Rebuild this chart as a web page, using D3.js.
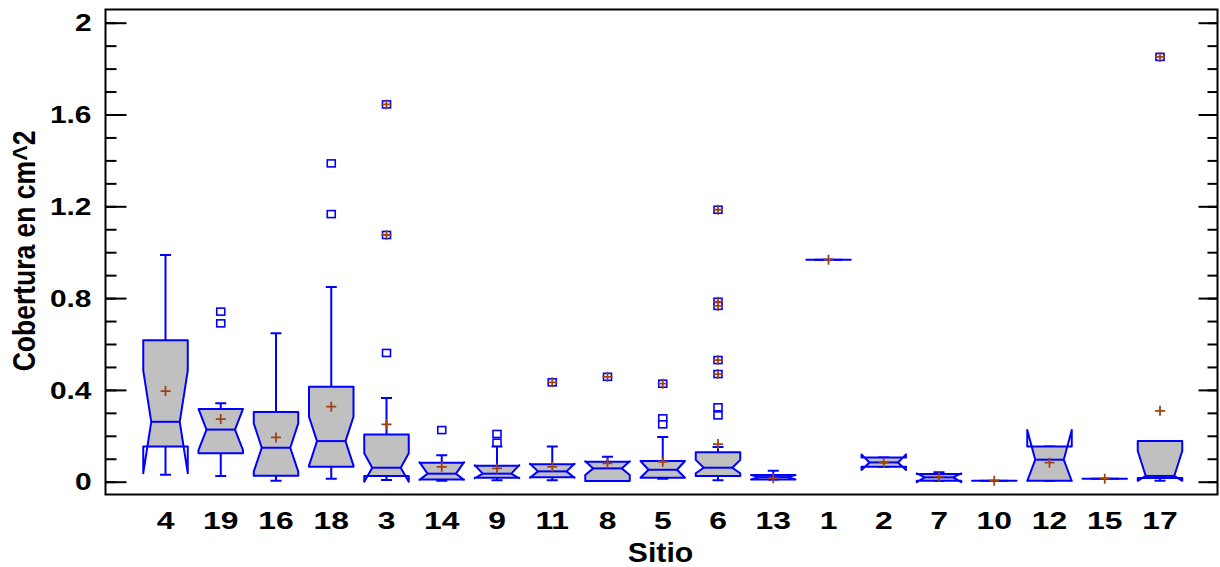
<!DOCTYPE html>
<html>
<head>
<meta charset="utf-8">
<script src="https://cdn.jsdelivr.net/npm/d3@7"></script>
<style>
  body { margin: 0; background: #fff; }
  text { font-family: "Liberation Sans", Arial, sans-serif; font-weight: bold; fill: #000; }
</style>
</head>
<body>
<svg id="chart"></svg>
<script>
var width = 1220;
var height = 567;

// sitios in plot order
var sitios = ["4","19","16","18","3","14","9","11","8","5","6","13","1","2","7","10","12","15","17"];

// box statistics (cm^2)
var whiskerLo = [0.030, 0.025, 0.004, 0.013, 0.007, 0.004, 0.006, 0.006, 0.003, 0.013, 0.006, 0.010, 0.967, 0.065, 0.004, 0.004, 0.004, 0.013, 0.004];
var q1        = [0.153, 0.124, 0.026, 0.065, 0.025, 0.010, 0.017, 0.019, 0.003, 0.017, 0.025, 0.010, 0.967, 0.065, 0.004, 0.004, 0.004, 0.013, 0.016];
var notchLo   = [0.037, 0.138, 0.044, 0.070, 0.000, 0.008, 0.015, 0.017, 0.029, 0.017, 0.037, 0.010, 0.967, 0.051, -0.002, 0.004, 0.003, 0.013, 0.004];
var medians   = [0.261, 0.227, 0.148, 0.177, 0.061, 0.035, 0.035, 0.045, 0.058, 0.052, 0.061, 0.020, 0.967, 0.084, 0.019, 0.004, 0.096, 0.013, 0.025];
var notchHi   = [0.484, 0.317, 0.254, 0.283, 0.124, 0.085, 0.072, 0.078, 0.089, 0.090, 0.095, 0.029, 0.967, 0.119, 0.036, 0.004, 0.225, 0.013, 0.134];
var q3        = [0.616, 0.317, 0.304, 0.414, 0.206, 0.083, 0.070, 0.076, 0.087, 0.090, 0.128, 0.029, 0.967, 0.105, 0.034, 0.004, 0.153, 0.013, 0.177];
var whiskerHi = [0.988, 0.342, 0.647, 0.848, 0.365, 0.115, 0.153, 0.153, 0.109, 0.195, 0.151, 0.048, 0.967, 0.105, 0.041, 0.004, 0.153, 0.013, 0.177];
var means     = [0.395, 0.273, 0.193, 0.327, 0.250, 0.065, 0.058, 0.065, 0.080, 0.087, 0.164, 0.015, 0.967, 0.083, 0.022, 0.004, 0.083, 0.013, 0.309];

// outside points (square) and far outside points (square with plus)
var outside = [[], [0.741, 0.690], [], [1.387, 1.166], [0.561], [0.225], [0.208, 0.170], [], [], [0.276, 0.250], [0.324, 0.289], [], [], [], [], [], [], [], []];
var farOutside = [[], [], [], [], [1.644, 1.075], [], [], [0.433], [0.457], [0.427], [1.185, 0.784, 0.766, 0.530, 0.469], [], [], [], [], [], [], [], [1.851]];

var yTicks = [0, 0.4, 0.8, 1.2, 1.6, 2];

var plot = { left: 105.5, top: 9.5, right: 1217.5, bottom: 494.5 };
var boxWidth = 44.5;
var notchInset = 8;
var blue = "#0000ff";
var brown = "#9c4416";
var stretch = 1.3;   // the original lettering is wide

var svg = d3.select("#chart")
  .attr("width", width)
  .attr("height", height);

var x = d3.scalePoint()
  .domain(sitios)
  .range([165.5, 1160]);

var y = d3.scaleLinear()
  .domain([0, 2])
  .range([481.7, 22.7]);

// frame
svg.append("rect")
  .attr("x", plot.left)
  .attr("y", plot.top)
  .attr("width", plot.right - plot.left)
  .attr("height", plot.bottom - plot.top)
  .attr("fill", "none")
  .attr("stroke", "#000")
  .attr("stroke-width", 2);

// left and right axes, ticks pointing inward
var minorTicks = d3.range(0, 21).map(function(i){ return i / 10; });

var gMinorL = svg.append("g")
  .attr("transform", "translate(" + plot.left + ",0)")
  .call(d3.axisLeft(y).tickValues(minorTicks).tickSize(-11).tickFormat(""));
var gMajorL = svg.append("g")
  .attr("transform", "translate(" + plot.left + ",0)")
  .call(d3.axisLeft(y).tickValues(yTicks).tickSize(-21).tickPadding(14).tickFormat(d3.format("~g")));

var gMinorR = svg.append("g")
  .attr("transform", "translate(" + plot.right + ",0)")
  .call(d3.axisRight(y).tickValues(minorTicks).tickSize(-10).tickFormat(""));
var gMajorR = svg.append("g")
  .attr("transform", "translate(" + plot.right + ",0)")
  .call(d3.axisRight(y).tickValues(yTicks).tickSize(-19).tickFormat(""));

[gMinorL, gMajorL, gMinorR, gMajorR].forEach(function(g){
  g.select(".domain").remove();
  g.selectAll(".tick line").attr("stroke", "#000").attr("stroke-width", 2);
});
gMajorL.selectAll(".tick text")
  .attr("x", 0)
  .attr("transform", "translate(-14,0) scale(" + stretch + ",1)")
  .attr("font-size", 23)
  .attr("font-family", null)
  .attr("dy", "0.36em")
  .attr("fill", "#000");

// x labels (no ticks)
svg.append("g").selectAll("text")
  .data(sitios)
  .enter().append("text")
  .attr("transform", function(d){ return "translate(" + x(d) + ",529) scale(" + stretch + ",1)"; })
  .attr("text-anchor", "middle")
  .attr("font-size", 24.5)
  .text(function(d){ return d; });

svg.append("text")
  .attr("transform", "translate(660.5,562) scale(1.12,1)")
  .attr("text-anchor", "middle")
  .attr("font-size", 27)
  .text("Sitio");

svg.append("text")
  .attr("transform", "translate(35,251) rotate(-90) scale(1,1.15)")
  .attr("text-anchor", "middle")
  .attr("font-size", 26.5)
  .text("Cobertura en cm^2");

// boxes
var boxes = sitios.map(function(s, i){
  return {
    sitio: s, i: i,
    wLo: whiskerLo[i], q1: q1[i], nLo: notchLo[i], med: medians[i],
    nHi: notchHi[i], q3: q3[i], wHi: whiskerHi[i], mean: means[i],
    out: outside[i], far: farOutside[i]
  };
});

var defs = svg.append("defs");
defs.selectAll("clipPath")
  .data(boxes)
  .enter().append("clipPath")
  .attr("id", function(d){ return "clip" + d.i; })
  .append("rect")
  .attr("x", function(d){ return x(d.sitio) - boxWidth / 2 - 2; })
  .attr("width", boxWidth + 4)
  .attr("y", function(d){ return y(d.q3); })
  .attr("height", function(d){ return Math.max(y(d.q1) - y(d.q3), 0.01); });

function boxPath(d){
  var x0 = x(d.sitio) - boxWidth / 2, x1 = x(d.sitio) + boxWidth / 2;
  var pts = [
    [x0, y(d.q3)], [x0, y(d.nHi)], [x0 + notchInset, y(d.med)], [x0, y(d.nLo)], [x0, y(d.q1)],
    [x1, y(d.q1)], [x1, y(d.nLo)], [x1 - notchInset, y(d.med)], [x1, y(d.nHi)], [x1, y(d.q3)]
  ];
  return "M" + pts.map(function(p){ return p[0] + "," + p[1]; }).join("L") + "Z";
}

var gBox = svg.append("g").selectAll("g")
  .data(boxes)
  .enter().append("g");

// whiskers
gBox.append("path")
  .attr("d", function(d){
    var cx = x(d.sitio);
    return "M" + cx + "," + y(d.q3) + "V" + y(d.wHi) + "M" + (cx - 5.5) + "," + y(d.wHi) + "H" + (cx + 5.5) +
           "M" + cx + "," + y(d.q1) + "V" + y(d.wLo) + "M" + (cx - 5.5) + "," + y(d.wLo) + "H" + (cx + 5.5);
  })
  .attr("fill", "none")
  .attr("stroke", blue)
  .attr("stroke-width", 2);

gBox.append("path")
  .attr("d", boxPath)
  .attr("clip-path", function(d){ return "url(#clip" + d.i + ")"; })
  .attr("fill", "#c0c0c0")
  .attr("stroke", "none");

gBox.append("path")
  .attr("d", boxPath)
  .attr("fill", "none")
  .attr("stroke", blue)
  .attr("stroke-width", 2)
  .attr("stroke-linejoin", "round");

// median line
gBox.append("line")
  .attr("x1", function(d){ return x(d.sitio) - boxWidth / 2 + notchInset; })
  .attr("x2", function(d){ return x(d.sitio) + boxWidth / 2 - notchInset; })
  .attr("y1", function(d){ return y(d.med); })
  .attr("y2", function(d){ return y(d.med); })
  .attr("stroke", blue)
  .attr("stroke-width", 2);

// outside points
function square(g, list, cx){
  g.selectAll(null)
    .data(list)
    .enter().append("rect")
    .attr("x", cx - 4)
    .attr("y", function(v){ return y(v) - 3.5; })
    .attr("width", 8)
    .attr("height", 7)
    .attr("fill", "#fff")
    .attr("stroke", blue)
    .attr("stroke-width", 1.6);
}

function plus(g, v, cx, size){
  g.append("path")
    .attr("d", "M" + (cx - size) + "," + y(v) + "H" + (cx + size) + "M" + cx + "," + (y(v) - size) + "V" + (y(v) + size))
    .attr("stroke", brown)
    .attr("stroke-width", 1.8)
    .attr("fill", "none");
}

gBox.each(function(d){
  var g = d3.select(this);
  var cx = x(d.sitio);
  square(g, d.out, cx);
  square(g, d.far, cx);
  d.far.forEach(function(v){ plus(g, v, cx, 5); });
  plus(g, d.mean, cx, 5);
});
</script>
</body>
</html>
